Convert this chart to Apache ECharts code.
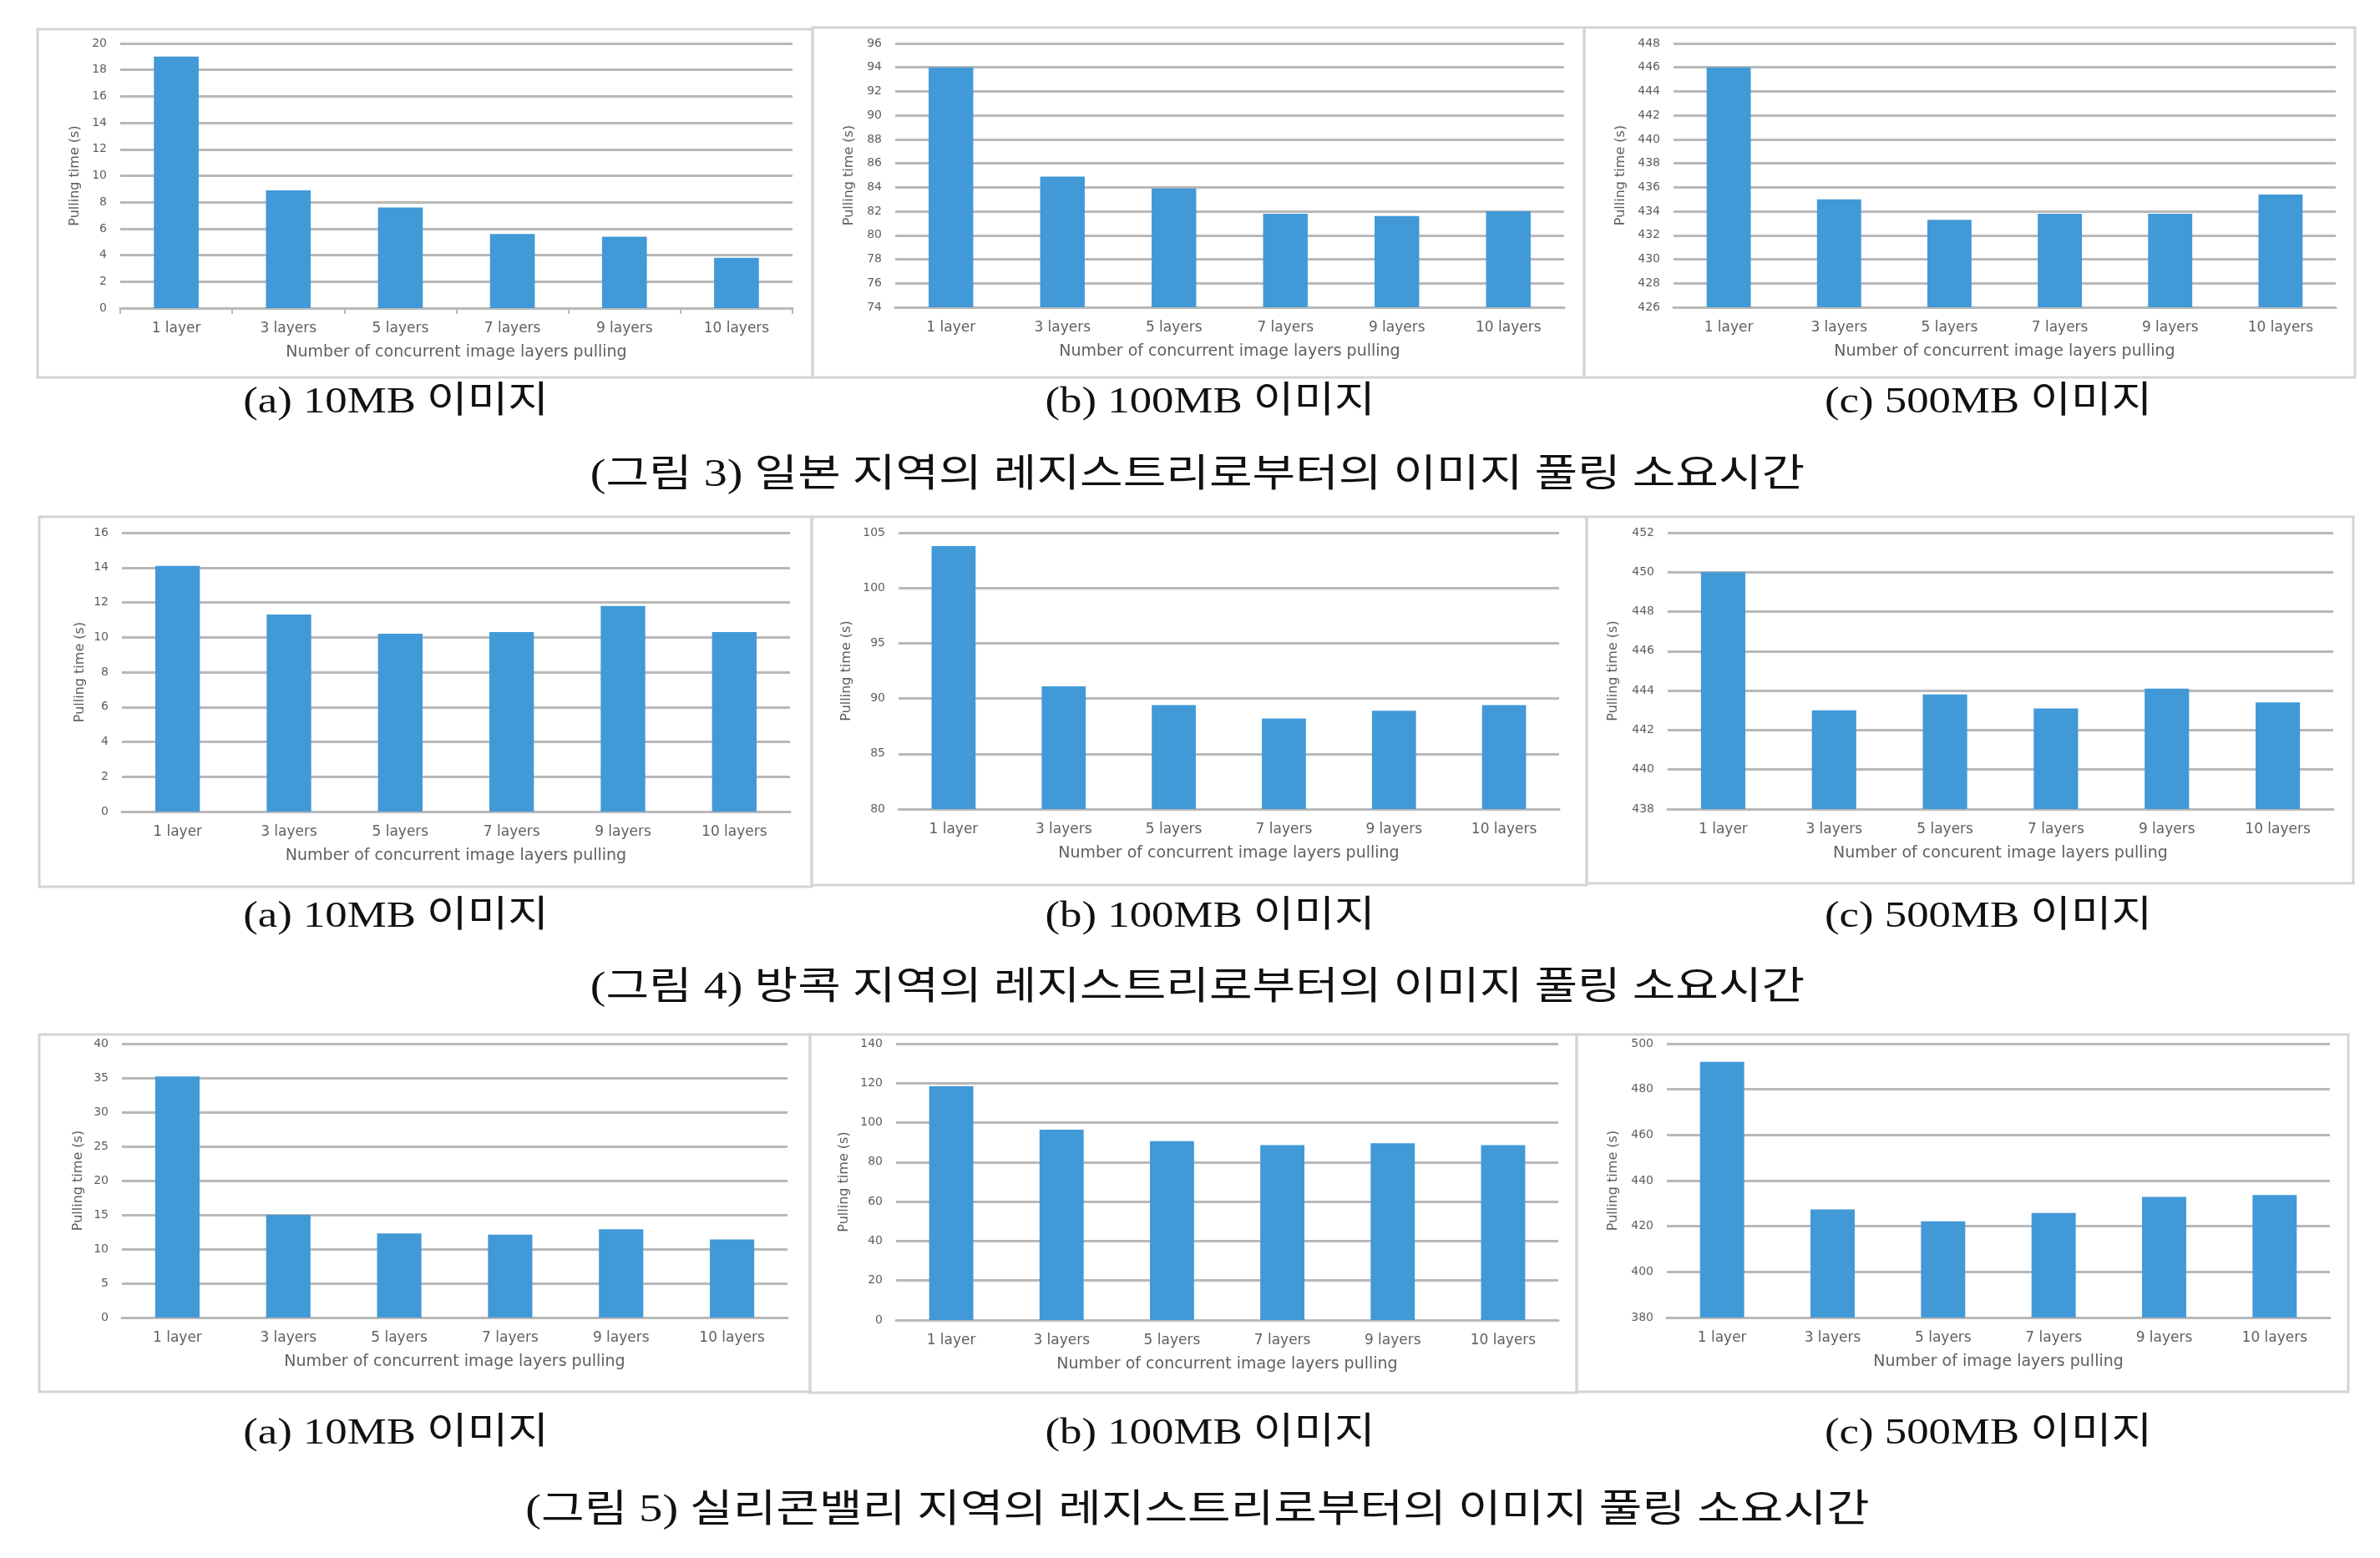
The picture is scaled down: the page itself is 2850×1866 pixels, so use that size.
<!DOCTYPE html>
<html>
<head>
<meta charset="utf-8">
<title>이미지 풀링 소요시간</title>
<script src="https://cdn.jsdelivr.net/npm/echarts@6/dist/echarts.min.js"></script>
<style>
  html, body { margin: 0; padding: 0; background: #fff; }
  #main { width: 2850px; height: 1866px; }
</style>
</head>
<body>
<div id="main"></div>
<script>
// categories
var layers = ["1 layer", "3 layers", "5 layers", "7 layers", "9 layers", "10 layers"];

// pulling time (s)
var japan10 = [19, 8.9, 7.6, 5.6, 5.4, 3.8];
var japan100 = [94, 84.9, 83.9, 81.8, 81.6, 82];
var japan500 = [446, 435, 433.3, 433.8, 433.8, 435.4];
var bangkok10 = [14.1, 11.3, 10.2, 10.3, 11.8, 10.3];
var bangkok100 = [103.8, 91.1, 89.4, 88.2, 88.9, 89.4];
var bangkok500 = [450, 443, 443.8, 443.1, 444.1, 443.4];
var silicon10 = [35.2, 15, 12.3, 12.1, 12.9, 11.4];
var silicon100 = [118.4, 96.4, 90.6, 88.6, 89.6, 88.6];
var silicon500 = [492, 427.4, 422.2, 425.8, 432.9, 433.7];

// y axis ticks: [min, max, interval]
var japanTicks = [[0, 20, 2], [74, 96, 2], [426, 448, 2]];
var bangkokTicks = [[0, 16, 2], [80, 105, 5], [438, 452, 2]];
var siliconTicks = [[0, 40, 5], [0, 140, 20], [380, 500, 20]];

// texts
var xTitle = "Number of concurrent image layers pulling";
var xTitleTypo = "Number of concurent image layers pulling";
var xTitleShort = "Number of image layers pulling";
var yTitle = "Pulling time (s)";
var subCaptions = ["(a) 10MB 이미지", "(b) 100MB 이미지", "(c) 500MB 이미지"];
var figCaptions = [
   "(그림 3) 일본 지역의 레지스트리로부터의 이미지 풀링 소요시간",
   "(그림 4) 방콕 지역의 레지스트리로부터의 이미지 풀링 소요시간",
   "(그림 5) 실리콘밸리 지역의 레지스트리로부터의 이미지 풀링 소요시간"
];

var blue = "#4299d7";
var gridGrey = "#b8b8b8";
var textGrey = "#5f5f5f";
var chartFont = "DejaVu Sans";
var capFont = "\"Liberation Serif\", \"Noto Sans CJK KR\"";

// panel layout: box = frame [x1,y1,x2,y2], plot = plot area [x1,y1,x2,y2]
var panels = [
   {data: japan10, ticks: japanTicks[0], name: xTitle, box: [45, 35, 973, 452], plot: [144, 52, 949, 369], yGap: 46, tick: true},
   {data: japan100, ticks: japanTicks[1], name: xTitle, box: [973, 33, 1897, 452], plot: [1072, 52, 1873, 368], yGap: 47},
   {data: japan500, ticks: japanTicks[2], name: xTitle, box: [1897, 33, 2820, 452], plot: [2004, 52, 2797, 368], yGap: 55},
   {data: bangkok10, ticks: bangkokTicks[0], name: xTitle, box: [47, 619, 972, 1062], plot: [146, 638, 946, 972], yGap: 42},
   {data: bangkok100, ticks: bangkokTicks[1], name: xTitle, box: [972, 619, 1900, 1060], plot: [1076, 638, 1867, 969], yGap: 54},
   {data: bangkok500, ticks: bangkokTicks[2], name: xTitleTypo, box: [1900, 619, 2818, 1058], plot: [1997, 638, 2794, 969], yGap: 57},
   {data: silicon10, ticks: siliconTicks[0], name: xTitle, box: [47, 1239, 970, 1667], plot: [146, 1250, 943, 1578], yGap: 44},
   {data: silicon100, ticks: siliconTicks[1], name: xTitle, box: [970, 1239, 1888, 1668], plot: [1073, 1250, 1866, 1581], yGap: 54},
   {data: silicon500, ticks: siliconTicks[2], name: xTitleShort, box: [1888, 1239, 2812, 1667], plot: [1996, 1250, 2790, 1578], yGap: 56}
];

var chart = echarts.init(document.getElementById("main"));

var grids = [], xAxes = [], yAxes = [], series = [], graphics = [];

panels.forEach(function (p, i) {
   // frame around each small chart
   graphics.push({
      type: "rect",
      z: 0,
      shape: {x: p.box[0], y: p.box[1], width: p.box[2] - p.box[0], height: p.box[3] - p.box[1]},
      style: {fill: "none", stroke: "#d4d4d4", lineWidth: 3}
   });
   grids.push({
      left: p.plot[0], top: p.plot[1],
      width: p.plot[2] - p.plot[0], height: p.plot[3] - p.plot[1],
      containLabel: false
   });
   xAxes.push({
      type: "category",
      gridIndex: i,
      data: layers,
      name: p.name,
      nameLocation: "middle",
      nameGap: 44,
      nameTextStyle: {color: textGrey, fontFamily: chartFont, fontSize: 19},
      axisLine: {show: true, lineStyle: {color: gridGrey, width: 3}},
      axisTick: {show: !!p.tick, length: 7, lineStyle: {color: gridGrey, width: 2}},
      axisLabel: {color: textGrey, fontFamily: chartFont, fontSize: 17, margin: 16, interval: 0},
      splitLine: {show: false}
   });
   yAxes.push({
      type: "value",
      gridIndex: i,
      min: p.ticks[0],
      max: p.ticks[1],
      interval: p.ticks[2],
      name: yTitle,
      nameLocation: "middle",
      nameGap: p.yGap,
      nameTextStyle: {color: textGrey, fontFamily: chartFont, fontSize: 16},
      axisLine: {show: false},
      axisTick: {show: false},
      axisLabel: {color: textGrey, fontFamily: chartFont, fontSize: 14, margin: 16},
      splitLine: {show: true, lineStyle: {color: gridGrey, width: 3}}
   });
   series.push({
      type: "bar",
      xAxisIndex: i,
      yAxisIndex: i,
      data: p.data,
      barWidth: "40%",
      itemStyle: {color: blue},
      z: 3
   });
});

// captions under each row (the scanned text is a bit wider than the font)
var subX = [474, 1449, 2381];
var rowCapY = [[482, 570], [1098, 1184], [1717, 1810]];
rowCapY.forEach(function (ys, r) {
   subCaptions.forEach(function (txt, k) {
      graphics.push({
         type: "text",
         x: subX[k], y: ys[0],
         scaleX: 1.2,
         style: {text: txt, fill: "#111", fontSize: 44, fontFamily: capFont, align: "center", verticalAlign: "middle"}
      });
   });
   graphics.push({
      type: "text",
      x: 1434, y: ys[1],
      scaleX: 1.22,
      style: {text: figCaptions[r], fill: "#111", fontSize: 46, fontFamily: capFont, align: "center", verticalAlign: "middle"}
   });
});

var option = {
   backgroundColor: "#fff",
   animation: false,
   grid: grids,
   xAxis: xAxes,
   yAxis: yAxes,
   series: series,
   graphic: graphics
};

chart.setOption(option);
</script>
</body>
</html>
